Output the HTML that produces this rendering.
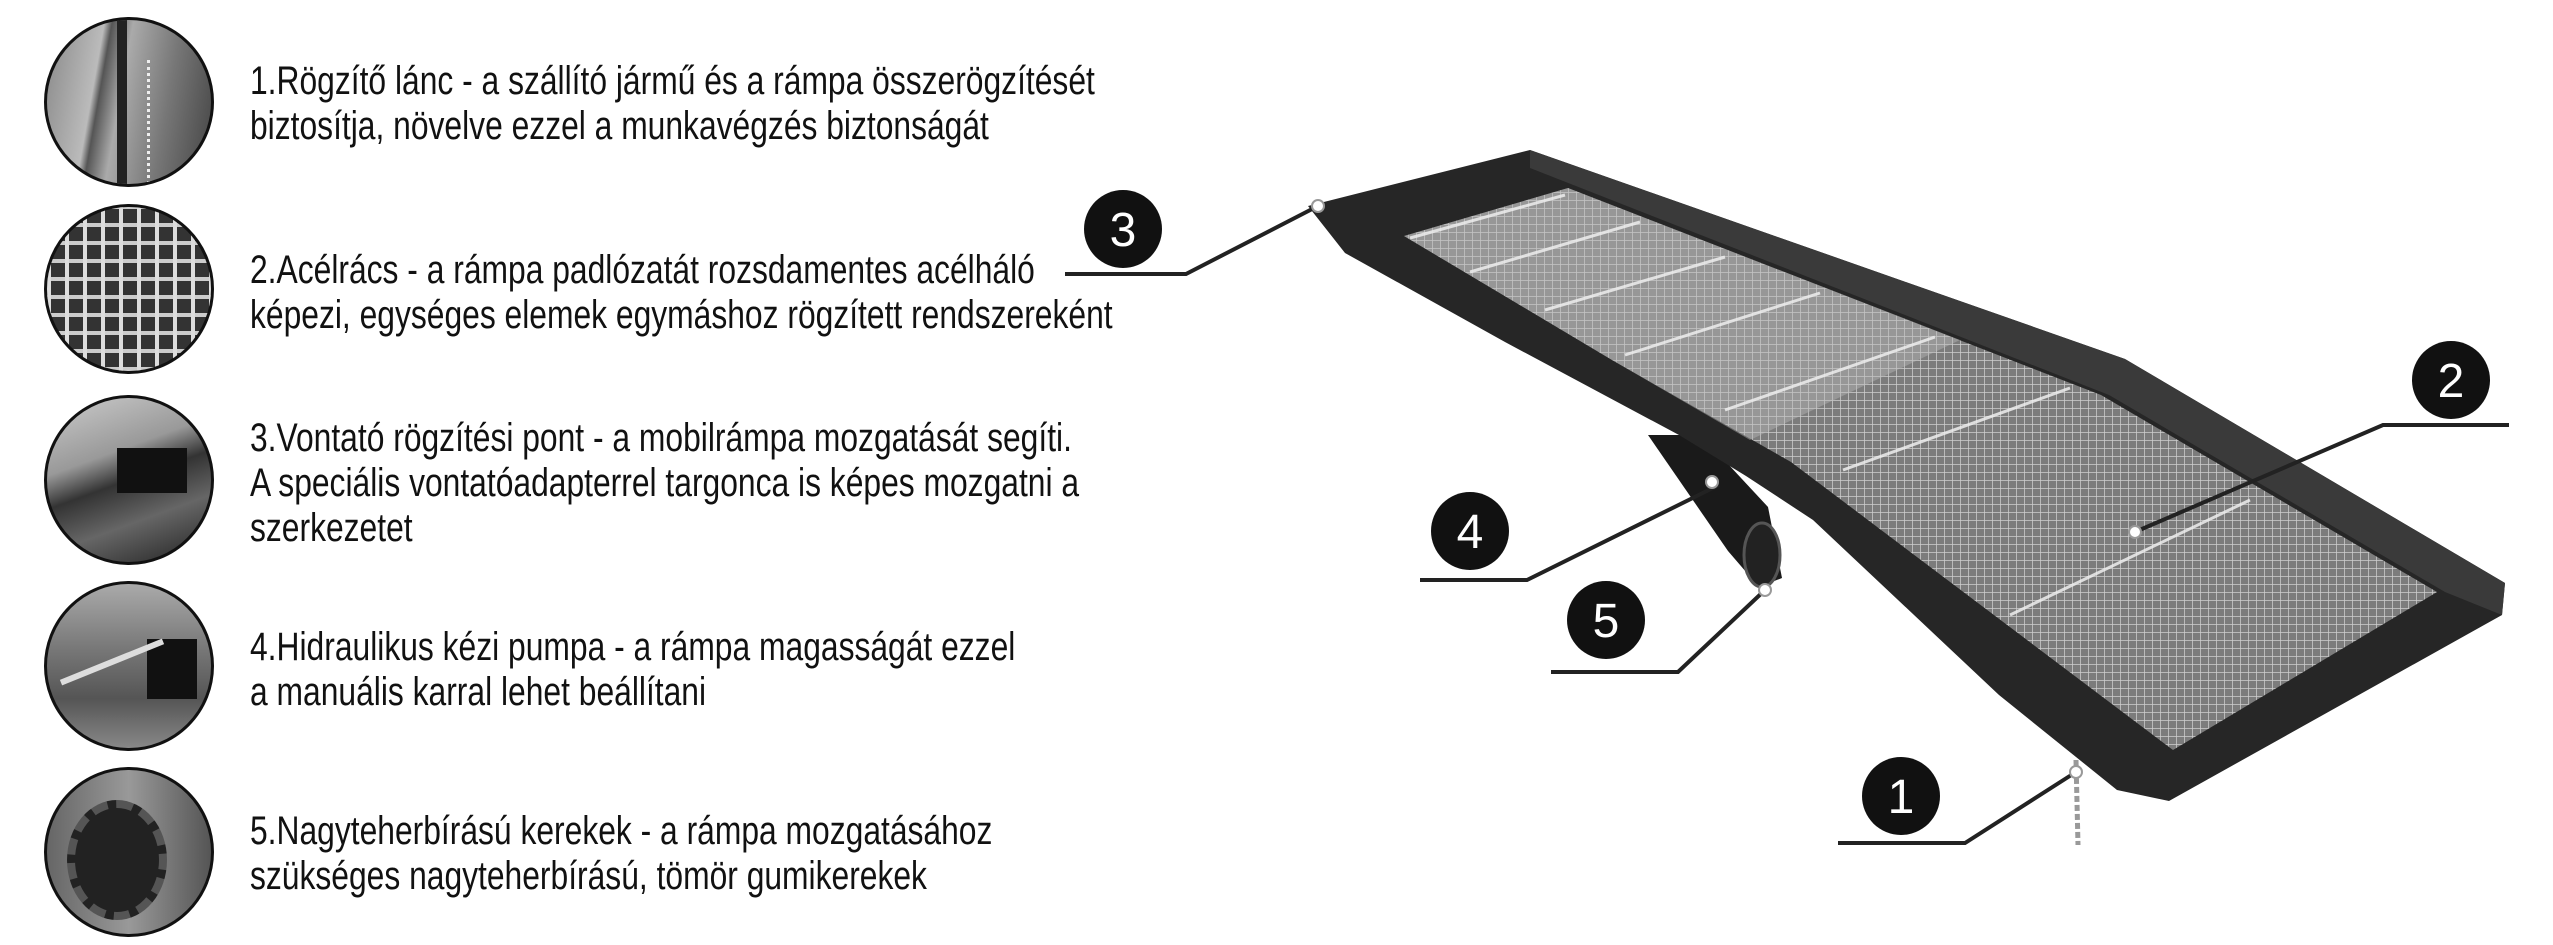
<!DOCTYPE html>
<html><head><meta charset="utf-8"><style>
body{margin:0;width:2553px;height:945px;background:#fff;position:relative;overflow:hidden;font-family:"Liberation Sans",sans-serif}
.c{position:absolute;left:44px;width:170px;height:170px;border-radius:50%;border:3px solid #111;box-sizing:border-box;overflow:hidden}
.t{position:absolute;left:250px;font-size:40px;line-height:45px;color:#111;white-space:nowrap;transform:scaleX(0.795);transform-origin:0 0}
</style></head><body>
<div class="c" style="top:17px;background:linear-gradient(100deg,#888 0%,#bbb 30%,#555 34%,#aaa 45%,#777 70%,#444 100%)"><div style="position:absolute;left:70px;top:0;width:10px;height:170px;background:#222"></div><div style="position:absolute;left:100px;top:40px;width:8px;height:130px;border-left:3px dotted #eee"></div></div>
<div class="c" style="top:204px;background:repeating-linear-gradient(90deg,#ddd 0 4px,#333 4px 18px),#333"><div style="position:absolute;inset:0;background:repeating-linear-gradient(0deg,rgba(220,220,220,.9) 0 4px,transparent 4px 18px)"></div></div>
<div class="c" style="top:395px;background:linear-gradient(160deg,#ccc 0%,#999 35%,#333 50%,#666 70%,#222 100%)"><div style="position:absolute;left:70px;top:50px;width:70px;height:45px;background:#111"></div></div>
<div class="c" style="top:581px;background:linear-gradient(180deg,#aaa 0%,#777 40%,#555 70%,#888 100%)"><div style="position:absolute;left:100px;top:55px;width:50px;height:60px;background:#111"></div><div style="position:absolute;left:10px;top:75px;width:110px;height:6px;background:#ddd;transform:rotate(-22deg)"></div></div>
<div class="c" style="top:767px;background:linear-gradient(90deg,#666,#999 50%,#555)"><div style="position:absolute;left:20px;top:30px;width:100px;height:120px;border-radius:50%;background:#222;border:8px dashed #555;box-sizing:border-box"></div></div>

<div class="t" style="top:59px">1.Rögzítő lánc - a szállító jármű és a rámpa összerögzítését<br>biztosítja, növelve ezzel a munkavégzés biztonságát</div>
<div class="t" style="top:248px">2.Acélrács - a rámpa padlózatát rozsdamentes acélháló<br>képezi, egységes elemek egymáshoz rögzített rendszereként</div>
<div class="t" style="top:416px">3.Vontató rögzítési pont - a mobilrámpa mozgatását segíti.<br>A speciális vontatóadapterrel targonca is képes mozgatni a<br>szerkezetet</div>
<div class="t" style="top:625px">4.Hidraulikus kézi pumpa - a rámpa magasságát ezzel<br>a manuális karral lehet beállítani</div>
<div class="t" style="top:809px">5.Nagyteherbírású kerekek - a rámpa mozgatásához<br>szükséges nagyteherbírású, tömör gumikerekek</div>

<svg width="2553" height="945" style="position:absolute;left:0;top:0">
<defs><pattern id="g" width="8" height="8" patternUnits="userSpaceOnUse"><rect width="8" height="8" fill="#7c7c7c"/><path d="M0 0H8M0 0V8" stroke="#cfcfcf" stroke-width="1.5"/></pattern></defs>
<polygon points="1648,435 1701,435 1768,507 1782,578 1759,587 1728,551" fill="#1a1a1a"/>
<ellipse cx="1762" cy="555" rx="18" ry="32" fill="#222" stroke="#555" stroke-width="3"/>
<polygon points="1308,206 1530,150 2125,359 2505,583 2502,615 2169,801 2117,790 1999,695 1813,520 1746,476 1679,435 1505,342 1345,253" fill="#262626"/>
<polygon points="1530,150 2125,359 2505,583 2502,615 2445,592 2109,395 1530,168" fill="#3a3a3a"/>
<polygon points="1404,236 1568,188 2101,395 2437,592 2173,750 1791,462 1612,360" fill="url(#g)"/>
<polygon points="1404,236 1568,188 1960,340 1750,440 1612,360" fill="#b8b8b8" opacity=".45"/>
<g stroke="#eee" stroke-width="3" opacity=".85">
<line x1="1410" y1="238" x2="1565" y2="195"/><line x1="1470" y1="272" x2="1640" y2="222"/><line x1="1545" y1="310" x2="1725" y2="257"/><line x1="1625" y1="355" x2="1820" y2="293"/><line x1="1725" y1="410" x2="1935" y2="337"/><line x1="1843" y1="470" x2="2070" y2="388"/><line x1="2010" y1="615" x2="2250" y2="500"/></g>
<line x1="2076" y1="760" x2="2078" y2="845" stroke="#999" stroke-width="5" stroke-dasharray="6 3"/>
<g stroke="#222" stroke-width="4" fill="none">
<polyline points="1065,274 1186,274 1318,206"/>
<polyline points="2509,425 2383,425 2135,532"/>
<polyline points="1420,580 1527,580 1719,485"/>
<polyline points="1551,672 1678,672 1765,590"/>
<polyline points="1838,843 1965,843 2076,772"/>
</g>
<g fill="#fff" stroke="#999" stroke-width="2"><circle cx="1318" cy="206" r="6"/><circle cx="2135" cy="532" r="6"/><circle cx="1712" cy="482" r="6"/><circle cx="1765" cy="590" r="6"/><circle cx="2076" cy="772" r="6"/></g>
<g fill="#111"><circle cx="1123" cy="229" r="39"/><circle cx="2451" cy="380" r="39"/><circle cx="1470" cy="531" r="39"/><circle cx="1606" cy="620" r="39"/><circle cx="1901" cy="796" r="39"/></g>
<g fill="#fff" font-family="Liberation Sans" font-size="48" text-anchor="middle"><text x="1123" y="246">3</text><text x="2451" y="397">2</text><text x="1470" y="548">4</text><text x="1606" y="637">5</text><text x="1901" y="813">1</text></g>
</svg>
</body></html>
